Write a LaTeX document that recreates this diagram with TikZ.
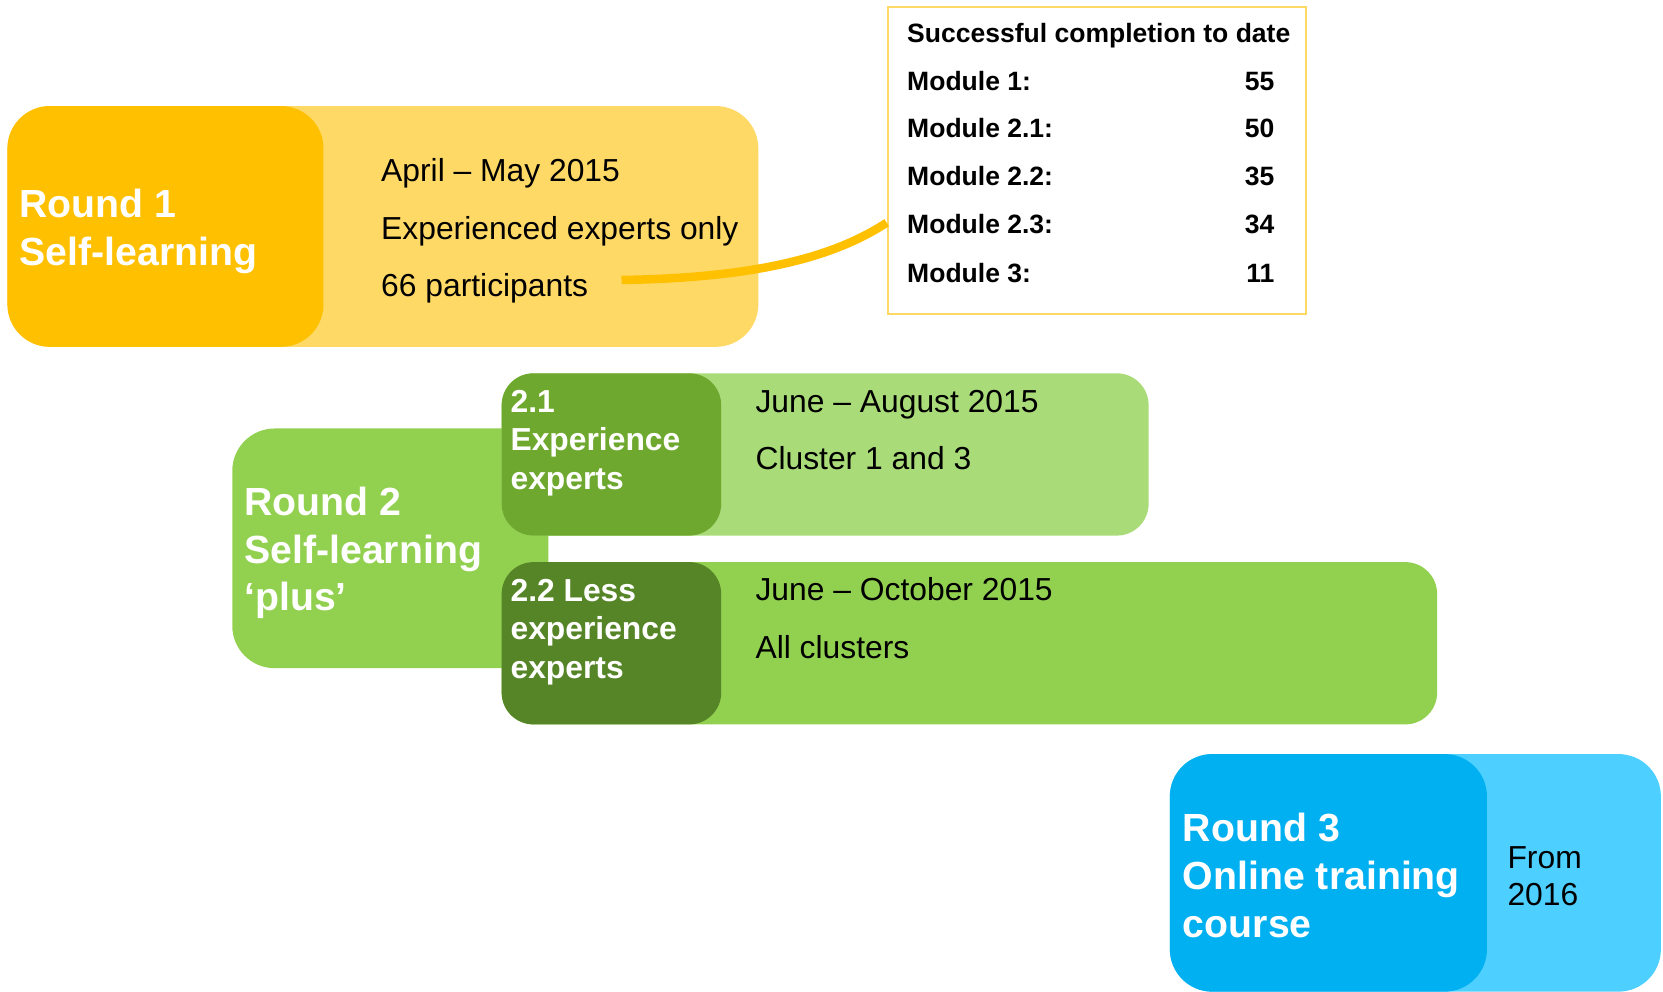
\documentclass[tikz,border=0pt]{standalone}
\usepackage{fontspec}
\setmainfont{Liberation Sans}
\definecolor{ronedark}{HTML}{FFC000}
\definecolor{ronelight}{HTML}{FFD966}
\definecolor{rtwo}{HTML}{92D050}
\definecolor{gaonedark}{HTML}{6FA82F}
\definecolor{gaonelight}{HTML}{A9DB78}
\definecolor{gatwodark}{HTML}{558526}
\definecolor{rthreedark}{HTML}{00B0F0}
\definecolor{rthreelight}{HTML}{4DCFFF}
\begin{document}
\begin{tikzpicture}[x=0.5pt,y=-0.5pt,
  titletext/.style={anchor=base west, inner sep=0pt, text=white, font=\fontsize{18.5}{22.5}\selectfont\bfseries},
  subtext/.style={anchor=base west, inner sep=0pt, text=white, font=\fontsize{15}{18}\selectfont\bfseries},
  bodytext/.style={anchor=base west, inner sep=0pt, text=black, font=\fontsize{15}{18}\selectfont},
  tabtext/.style={anchor=base west, inner sep=0pt, text=black, font=\fontsize{12.5}{15}\selectfont\bfseries},
  tabnum/.style={anchor=base east, inner sep=0pt, text=black, font=\fontsize{12.5}{15}\selectfont\bfseries},
  bigbox/.style={rounded corners=20pt},
  smallbox/.style={rounded corners=15pt}]
\useasboundingbox (0,0) rectangle (1568,935);
\clip (0,0) rectangle (1568,935);
% Round 1
\fill[ronelight, bigbox] (7,100) rectangle (715,327);
\fill[ronedark, bigbox] (7,100) rectangle (305,327);
\node[titletext] (r1a) at (18,205) {Round 1};
\node[titletext] (r1b) at (18,250) {Self-learning};
\node[bodytext] (r1c) at (359,171) {April – May 2015};
\node[bodytext] (r1d) at (359,226) {Experienced experts only};
\node[bodytext] (r1e) at (359,280) {66 participants};
% table
\node[draw=ronelight, line width=1pt, minimum width=197pt, minimum height=144.5pt, anchor=north west, inner sep=0pt] (tbl) at (836,6) {};
\node[tabtext] (th) at (855,40) {Successful completion to date};
\node[tabtext] (m1) at (855,85) {Module 1:};
\node[tabtext] (m21) at (855,130) {Module 2.1:};
\node[tabtext] (m22) at (855,175) {Module 2.2:};
\node[tabtext] (m23) at (855,220) {Module 2.3:};
\node[tabtext] (m3) at (855,266) {Module 3:};
\node[tabnum] (n1) at (1202,85) {55};
\node[tabnum] (n21) at (1202,130) {50};
\node[tabnum] (n22) at (1202,175) {35};
\node[tabnum] (n23) at (1202,220) {34};
\node[tabnum] (n3) at (1202,266) {11};
% connector
\coordinate (cs) at (586,264);
\coordinate (ce) at (tbl.west |- 0,210);
\draw[ronedark, line width=4pt] (cs) .. controls (720,262) and (790,240) .. (ce);
% Round 2
\fill[rtwo, bigbox] (219,404) rectangle (517,630);
\fill[gaonelight, smallbox] (473,352) rectangle (1083,505);
\fill[gaonedark, smallbox] (473,352) rectangle (680,505);
\fill[rtwo, smallbox] (473,530) rectangle (1355,683);
\fill[gatwodark, smallbox] (473,530) rectangle (680,683);
\node[titletext] (r2a) at (230,486) {Round 2};
\node[titletext] (r2b) at (230,531) {Self-learning};
\node[titletext] (r2c) at (230,576) {‘plus’};
\node[subtext] (s1a) at (481,389) {2.1};
\node[subtext] (s1b) at (481,425) {Experience};
\node[subtext] (s1c) at (481,462) {experts};
\node[bodytext] (s1d) at (712,389) {June – August 2015};
\node[bodytext] (s1e) at (712,443) {Cluster 1 and 3};
\node[subtext] (s2a) at (481,567) {2.2 Less};
\node[subtext] (s2b) at (481,603) {experience};
\node[subtext] (s2c) at (481,640) {experts};
\node[bodytext] (s2d) at (712,566) {June – October 2015};
\node[bodytext] (s2e) at (712,621) {All clusters};
% Round 3
\fill[rthreelight, bigbox] (1103,711) rectangle (1566,935);
\fill[rthreedark, bigbox] (1103,711) rectangle (1402,935);
\node[titletext] (r3a) at (1115,793) {Round 3};
\node[titletext] (r3b) at (1115,839) {Online training};
\node[titletext] (r3c) at (1115,884) {course};
\node[bodytext] (r3d) at (1421,819) {From};
\node[bodytext] (r3e) at (1421,854) {2016};
\end{tikzpicture}
\end{document}
